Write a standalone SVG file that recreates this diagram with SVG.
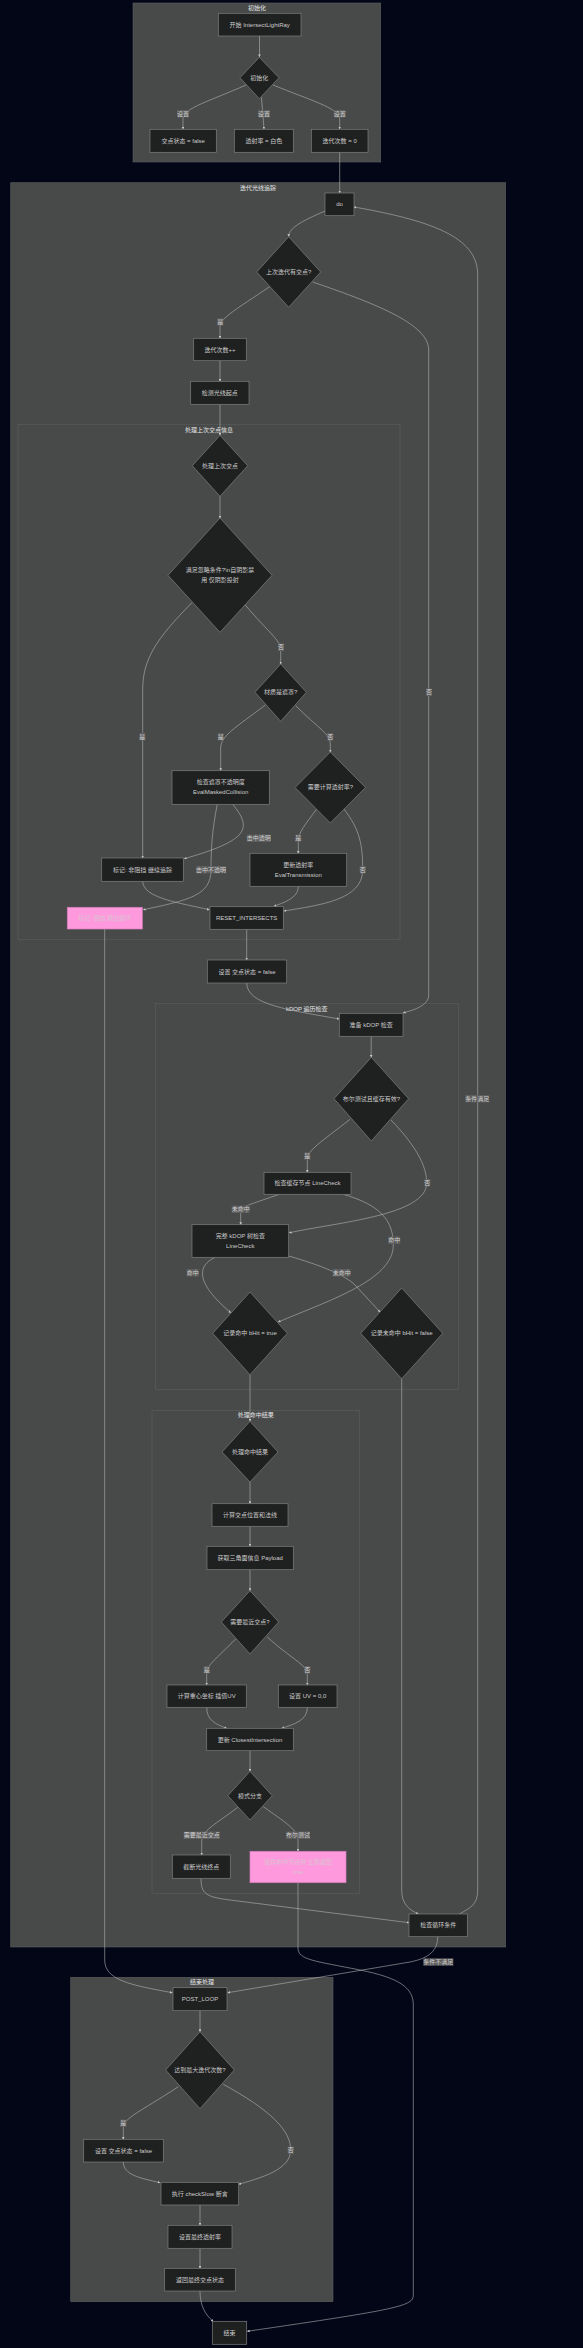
<svg xmlns="http://www.w3.org/2000/svg" width="583" height="2348" viewBox="0 0 583 2348">
<defs>
<marker id="ah" viewBox="0 0 10 10" refX="9" refY="5" markerWidth="2.6" markerHeight="2.6" markerUnits="userSpaceOnUse" orient="auto">
<path d="M0,0 L10,5 L0,10 z" fill="#c8c8c8"/>
</marker>
<style>
.cl{fill:#484a4a;stroke:#5c5e5e;stroke-width:0.6}
.n{fill:#1f2020;stroke:#7e7e7e;stroke-width:0.7}
.pk{fill:#ff99dd;stroke:#d97cbc;stroke-width:0.7}
text{font-family:"Liberation Sans","Noto Sans CJK SC",sans-serif;font-size:6px;text-anchor:middle;dominant-baseline:central}
.t{fill:#cccccc}
.tp{fill:#d9c3d2}
.ct{fill:#e6e6e6}
.e{fill:none;stroke:#b4b4b4;stroke-width:0.6;marker-end:url(#ah)}
.lb{fill:#5d5d5d}
.lt{fill:#cfcfcf}
</style>
</defs>
<rect width="583" height="2348" fill="#020617"/>

<g id="clusters">
<rect class="cl" x="133" y="3" width="247.7" height="159"/>
<text class="ct" x="257" y="8">初始化</text>
<rect class="cl" x="10.7" y="182.7" width="495" height="1764.3"/>
<text class="ct" x="258" y="187.7">迭代光线追踪</text>
<rect class="cl" x="18" y="424.3" width="382" height="515"/>
<text class="ct" x="209" y="429.7">处理上次交点信息</text>
<rect class="cl" x="155.3" y="1003.3" width="303" height="386"/>
<text class="ct" x="306.7" y="1008.7">kDOP 遍历检查</text>
<rect class="cl" x="152" y="1410.7" width="207.7" height="482.6"/>
<text class="ct" x="255.7" y="1415.3">处理命中结果</text>
<rect class="cl" x="70.7" y="1977.3" width="262.3" height="324.4"/>
<text class="ct" x="202" y="1982.3">结束处理</text>
</g>

<g id="edges">
<path class="e" d="M259.5,36 L259.5,56.8"/>
<path class="e" d="M246,85 C210,101 184,108 183,118 L183,129"/>
<path class="e" d="M261.5,97.5 L264,129"/>
<path class="e" d="M273,85 C310,100 338,108 339.7,118 L339.7,129"/>
<path class="e" d="M339.7,152.3 L339.7,193"/>
<path class="e" d="M325,211 C300,222 289,228 288.7,236.5"/>
<path class="e" d="M269.7,286.7 C235,310 221,318 220,326 L220,338.3"/>
<path class="e" d="M220,360.7 L220,381.3"/>
<path class="e" d="M220,404.3 L220,435.3"/>
<path class="e" d="M220,496.3 L220,518"/>
<path class="e" d="M192.3,602.3 C155,640 142.7,660 142.7,690 L142.7,858"/>
<path class="e" d="M245,604.7 C268,632 280.7,640 280.7,650 L280.7,664"/>
<path class="e" d="M265.7,704.7 C235,728 220.7,736 220.7,748 L220.7,770.7"/>
<path class="e" d="M295.7,705.7 C318,728 330.3,734 330.3,744 L330.3,752"/>
<path class="e" d="M232.7,804.3 C252,828 250,840 184.3,858.7"/>
<path class="e" d="M217.3,804.3 C212,830 211,850 211,870 C211,895 190,900 143.3,909.7"/>
<path class="e" d="M142.7,881.3 C142.7,898 180,903 209.3,909.7"/>
<path class="e" d="M316.7,809 C305,825 298.3,832 298.3,842 L298.3,853.3"/>
<path class="e" d="M344,809 C360,830 362.7,845 362.7,870 C362.7,900 320,905 284,911"/>
<path class="e" d="M298.3,886.3 C298.3,898 285,902 274,906.3"/>
<path class="e" d="M246.7,929.3 L246.7,960"/>
<path class="e" d="M246.7,983 C246.7,1005 290,1010 339,1019"/>
<path class="e" d="M312.7,282 C380,305 428.7,325 428.7,350 L428.7,995 C428.7,1005 415,1010 403.3,1012.7"/>
<path class="e" d="M371.2,1036.3 L371.2,1057.3"/>
<path class="e" d="M350,1119.3 C320,1143 307.3,1150 307.3,1160 L307.3,1172.3"/>
<path class="e" d="M391,1120 C415,1145 426.7,1165 426.7,1183 C426.7,1215 340,1222 289.3,1232.7"/>
<path class="e" d="M279.3,1194.3 C255,1203 240.7,1206 240.7,1212 L240.7,1224.7"/>
<path class="e" d="M343.3,1194.3 C380,1205 393.3,1220 393.3,1245 C393.3,1280 330,1300 278.3,1322"/>
<path class="e" d="M215,1257.3 C195,1267 198,1285 230.7,1312.7"/>
<path class="e" d="M288.7,1256 C320,1265 345,1275 355,1285 L380,1312"/>
<path class="e" d="M250,1374.7 L250,1421.3"/>
<path class="e" d="M401.7,1378.7 L401.7,1890 C401.7,1905 410,1910 418.3,1914"/>
<path class="e" d="M250,1482 L250,1503.7"/>
<path class="e" d="M250,1526.3 L250,1546.3"/>
<path class="e" d="M250,1569.7 L250,1590.7"/>
<path class="e" d="M235.7,1639 C215,1660 206.7,1665 206.7,1674 L206.7,1685"/>
<path class="e" d="M267.3,1637 C290,1658 307.3,1665 307.3,1674 L307.3,1685"/>
<path class="e" d="M206.7,1707.3 C206.7,1720 215,1724 226.7,1728.3"/>
<path class="e" d="M307.3,1707.3 C307.3,1720 295,1724 281.7,1728.3"/>
<path class="e" d="M250,1750.7 L250,1771.3"/>
<path class="e" d="M237.7,1807.3 C215,1825 201.7,1830 201.7,1842 L201.7,1855"/>
<path class="e" d="M263.3,1806.7 C285,1822 298,1830 298,1840 L298,1851.3"/>
<path class="e" d="M201,1878.3 C201,1893 205,1897 230,1900 L409,1922.7"/>
<path class="e" d="M298,1882.7 L298,1948 C298,1960 315,1961 360,1970 C400,1978 413.3,1988 413.3,2005 L413.3,2295 C413.3,2306 400,2309 247.3,2331.3"/>
<path class="e" d="M459.3,1914 C470,1908 477.7,1905 477.7,1890 L477.7,275 C477.7,240 440,222 354,207"/>
<path class="e" d="M437.7,1936.7 C437.7,1950 430,1958 410,1962 L227.7,1992.7"/>
<path class="e" d="M104.7,929 L104.7,1960 C104.7,1980 130,1985 172.3,1992.7"/>
<path class="e" d="M200,2010.7 L200,2031.7"/>
<path class="e" d="M178.3,2086.7 C140,2112 123.3,2118 123.3,2128 L123.3,2139.3"/>
<path class="e" d="M223.3,2084.3 C270,2110 290.7,2130 290.7,2150 C290.7,2170 260,2178 238.7,2184.3"/>
<path class="e" d="M123.3,2162 C123.3,2175 140,2178 160,2182.7"/>
<path class="e" d="M200,2205 L200,2225.3"/>
<path class="e" d="M200,2248.3 L200,2268.3"/>
<path class="e" d="M200,2291 C200,2305 205,2315 213.3,2321.3"/>
</g>

<g id="edge-labels">
<rect class="lb" x="177" y="110" width="12" height="7.4"/><text class="lt" x="183" y="113.7">设置</text>
<rect class="lb" x="258" y="110" width="12" height="7.4"/><text class="lt" x="264" y="113.7">设置</text>
<rect class="lb" x="333.7" y="110" width="12" height="7.4"/><text class="lt" x="339.7" y="113.7">设置</text>
<rect class="lb" x="217.3" y="318.3" width="6" height="7.4"/><text class="lt" x="220.3" y="322">是</text>
<rect class="lb" x="139.3" y="733" width="6" height="7.4"/><text class="lt" x="142.3" y="736.7">是</text>
<rect class="lb" x="278" y="643.6" width="6" height="7.4"/><text class="lt" x="281" y="647.3">否</text>
<rect class="lb" x="217.7" y="733" width="6" height="7.4"/><text class="lt" x="220.7" y="736.7">是</text>
<rect class="lb" x="327.3" y="733" width="6" height="7.4"/><text class="lt" x="330.3" y="736.7">否</text>
<rect class="lb" x="246.7" y="834.6" width="24" height="7.4"/><text class="lt" x="258.7" y="838.3">击中透明</text>
<rect class="lb" x="196" y="866" width="30" height="7.4"/><text class="lt" x="211" y="869.7">击中不透明</text>
<rect class="lb" x="295.3" y="834.6" width="6" height="7.4"/><text class="lt" x="298.3" y="838.3">是</text>
<rect class="lb" x="359.7" y="866" width="6" height="7.4"/><text class="lt" x="362.7" y="869.7">否</text>
<rect class="lb" x="426" y="688.6" width="6" height="7.4"/><text class="lt" x="429" y="692.3">否</text>
<rect class="lb" x="465.3" y="1095" width="24" height="7.4"/><text class="lt" x="477.3" y="1098.7">条件满足</text>
<rect class="lb" x="304.3" y="1152.3" width="6" height="7.4"/><text class="lt" x="307.3" y="1156">是</text>
<rect class="lb" x="424.3" y="1179" width="6" height="7.4"/><text class="lt" x="427.3" y="1182.7">否</text>
<rect class="lb" x="231.7" y="1205.6" width="18" height="7.4"/><text class="lt" x="240.7" y="1209.3">未命中</text>
<rect class="lb" x="388.3" y="1236.6" width="12" height="7.4"/><text class="lt" x="394.3" y="1240.3">命中</text>
<rect class="lb" x="186.7" y="1269" width="12" height="7.4"/><text class="lt" x="192.7" y="1272.7">命中</text>
<rect class="lb" x="332.7" y="1269" width="18" height="7.4"/><text class="lt" x="341.7" y="1272.7">未命中</text>
<rect class="lb" x="203.7" y="1666" width="6" height="7.4"/><text class="lt" x="206.7" y="1669.7">是</text>
<rect class="lb" x="304.3" y="1666" width="6" height="7.4"/><text class="lt" x="307.3" y="1669.7">否</text>
<rect class="lb" x="183.7" y="1831.6" width="36" height="7.4"/><text class="lt" x="201.7" y="1835.3">需要最近交点</text>
<rect class="lb" x="286" y="1831.6" width="24" height="7.4"/><text class="lt" x="298" y="1835.3">布尔测试</text>
<rect class="lb" x="423.3" y="1958.3" width="30" height="7.4"/><text class="lt" x="438.3" y="1962">条件不满足</text>
<rect class="lb" x="120.3" y="2119.6" width="6" height="7.4"/><text class="lt" x="123.3" y="2123.3">是</text>
<rect class="lb" x="287.7" y="2146.6" width="6" height="7.4"/><text class="lt" x="290.7" y="2150.3">否</text>
</g>

<g id="start"><rect class="n" x="218.3" y="13.3" width="82.7" height="22.7"/><text class="t" x="259.7" y="24.7">开始 IntersectLightRay</text></g>
<g id="init"><path class="n" d="M259.3,57.3 L279,77.7 L259.3,98.7 L240,77.7 Z"/><text class="t" x="259.3" y="77.7">初始化</text></g>
<g id="setFalse"><rect class="n" x="150" y="129.3" width="66.3" height="23"/><text class="t" x="183.2" y="140.8">交点状态 = false</text></g>
<g id="setTrans"><rect class="n" x="234.3" y="129.3" width="59" height="23"/><text class="t" x="263.8" y="140.8">透射率 = 白色</text></g>
<g id="setIter"><rect class="n" x="311.3" y="129.3" width="56.7" height="23"/><text class="t" x="339.7" y="140.8">迭代次数 = 0</text></g>
<g id="do"><rect class="n" x="325" y="193" width="29" height="22.7"/><text class="t" x="339.5" y="204.3">do</text></g>
<g id="lastHit"><path class="n" d="M288.7,236.7 L320.7,272 L288.7,307.3 L256.7,272 Z"/><text class="t" x="288.7" y="272">上次迭代有交点?</text></g>
<g id="iterInc"><rect class="n" x="193.7" y="338.3" width="52.6" height="22.4"/><text class="t" x="220" y="349.5">迭代次数++</text></g>
<g id="rayStart"><rect class="n" x="190.7" y="381.3" width="58.3" height="23"/><text class="t" x="219.8" y="392.8">检测光线起点</text></g>
<g id="procLast"><path class="n" d="M220,435.3 L247.7,465.7 L220,496.3 L192.3,465.7 Z"/><text class="t" x="220" y="465.7">处理上次交点</text></g>
<g id="ignoreCond"><path class="n" d="M220,518 L272,575.3 L220,632.3 L168,575.3 Z"/><text class="t" x="220" y="569.7">满足忽略条件?\n自阴影禁</text><text class="t" x="220" y="579.7">用 仅阴影投射</text></g>
<g id="masked"><path class="n" d="M280.7,664 L306.4,692.3 L280.7,721.3 L255,692.3 Z"/><text class="t" x="280.7" y="692.3">材质是遮罩?</text></g>
<g id="evalMasked"><rect class="n" x="172" y="770.7" width="97.3" height="33.6"/><text class="t" x="220.7" y="782.3">检查遮罩不透明度</text><text class="t" x="220.7" y="792.3">EvalMaskedCollision</text></g>
<g id="needTrans"><path class="n" d="M330.3,752 L365.5,787.5 L330.3,823 L295.1,787.5 Z"/><text class="t" x="330.3" y="787.3">需要计算透射率?</text></g>
<g id="markNonBlock"><rect class="n" x="101.7" y="858" width="81.6" height="23.3"/><text class="t" x="142.5" y="869.7">标记: 非阻挡 继续追踪</text></g>
<g id="evalTrans"><rect class="n" x="250" y="853.3" width="96.7" height="33"/><text class="t" x="298.3" y="864.7">更新透射率</text><text class="t" x="298.3" y="874.7">EvalTransmission</text></g>
<g id="markBlock"><rect class="pk" x="67.3" y="907.3" width="75" height="21.7"/><text class="tp" x="104.8" y="918.2">标记: 阻挡 跳出循环</text></g>
<g id="reset"><rect class="n" x="210" y="906.7" width="73.3" height="22.6"/><text class="t" x="246.7" y="918">RESET_INTERSECTS</text></g>
<g id="setFalse2"><rect class="n" x="207.3" y="960" width="79.4" height="23"/><text class="t" x="247" y="971.5">设置 交点状态 = false</text></g>
<g id="prepKdop"><rect class="n" x="339.3" y="1013.3" width="63.7" height="23"/><text class="t" x="371.2" y="1024.8">准备 kDOP 检查</text></g>
<g id="boolCache"><path class="n" d="M371.3,1057.3 L408.6,1098.7 L371.3,1141 L334,1098.7 Z"/><text class="t" x="371.3" y="1098.7">布尔测试且缓存有效?</text></g>
<g id="cacheCheck"><rect class="n" x="264" y="1172.3" width="87" height="22"/><text class="t" x="307.5" y="1183.3">检查缓存节点 LineCheck</text></g>
<g id="fullKdop"><rect class="n" x="192" y="1224.7" width="96.7" height="32.6"/><text class="t" x="240.3" y="1236">完整 kDOP 树检查</text><text class="t" x="240.3" y="1245.5">LineCheck</text></g>
<g id="recHit"><path class="n" d="M250,1292 L287.3,1333.3 L250,1374.7 L212.7,1333.3 Z"/><text class="t" x="250" y="1333.3">记录命中 bHit = true</text></g>
<g id="recMiss"><path class="n" d="M401.7,1288 L442.7,1333.3 L401.7,1378.7 L360.7,1333.3 Z"/><text class="t" x="401.7" y="1333.3">记录未命中 bHit = false</text></g>
<g id="procHit"><path class="n" d="M250,1421.3 L278,1452 L250,1482 L222,1452 Z"/><text class="t" x="250" y="1452">处理命中结果</text></g>
<g id="calcPos"><rect class="n" x="212" y="1503.7" width="76" height="22.6"/><text class="t" x="250" y="1515">计算交点位置和法线</text></g>
<g id="payload"><rect class="n" x="207" y="1546.3" width="86.3" height="23.4"/><text class="t" x="250.2" y="1558">获取三角面信息 Payload</text></g>
<g id="needClosest"><path class="n" d="M250,1590.7 L278.7,1622 L250,1654 L221.3,1622 Z"/><text class="t" x="250" y="1622">需要最近交点?</text></g>
<g id="baryUV"><rect class="n" x="167" y="1685" width="79.3" height="22.3"/><text class="t" x="206.7" y="1696.2">计算重心坐标 插值UV</text></g>
<g id="uvZero"><rect class="n" x="278.3" y="1685" width="58.7" height="22.3"/><text class="t" x="307.7" y="1696.2">设置 UV = 0,0</text></g>
<g id="closest"><rect class="n" x="206.7" y="1728.3" width="86.6" height="22.4"/><text class="t" x="250" y="1739.5">更新 ClosestIntersection</text></g>
<g id="mode"><path class="n" d="M250,1771.3 L272.2,1795.7 L250,1820 L227.8,1795.7 Z"/><text class="t" x="250" y="1795.7">模式分支</text></g>
<g id="truncate"><rect class="n" x="172.3" y="1855" width="58" height="23.3"/><text class="t" x="201.3" y="1866.7">截断光线终点</text></g>
<g id="cacheReturn"><rect class="pk" x="250" y="1851.3" width="96" height="31.4"/><text class="tp" x="298" y="1861.7">缓存命中节点并 立即返回</text><text class="tp" x="298" y="1871.7">true</text></g>
<g id="loopCond"><rect class="n" x="409" y="1914" width="58.3" height="22.7"/><text class="t" x="438.2" y="1925.3">检查循环条件</text></g>
<g id="postLoop"><rect class="n" x="173" y="1987.7" width="54" height="23"/><text class="t" x="200" y="1999.2">POST_LOOP</text></g>
<g id="maxIter"><path class="n" d="M200,2031.7 L234.3,2070 L200,2108.7 L165.7,2070 Z"/><text class="t" x="200" y="2070">达到最大迭代次数?</text></g>
<g id="setFalse3"><rect class="n" x="83.7" y="2139.3" width="79.6" height="22.7"/><text class="t" x="123.5" y="2150.7">设置 交点状态 = false</text></g>
<g id="checkSlow"><rect class="n" x="161" y="2182.3" width="77.7" height="22.7"/><text class="t" x="199.8" y="2193.7">执行 checkSlow 断言</text></g>
<g id="finalTrans"><rect class="n" x="168" y="2225.3" width="64" height="23"/><text class="t" x="200" y="2236.8">设置最终透射率</text></g>
<g id="retState"><rect class="n" x="164.7" y="2268.3" width="70.6" height="22.7"/><text class="t" x="200" y="2279.7">返回最终交点状态</text></g>
<g id="end"><rect class="n" x="212.3" y="2321.3" width="34.4" height="23"/><text class="t" x="229.5" y="2332.8">结束</text></g>
</svg>
